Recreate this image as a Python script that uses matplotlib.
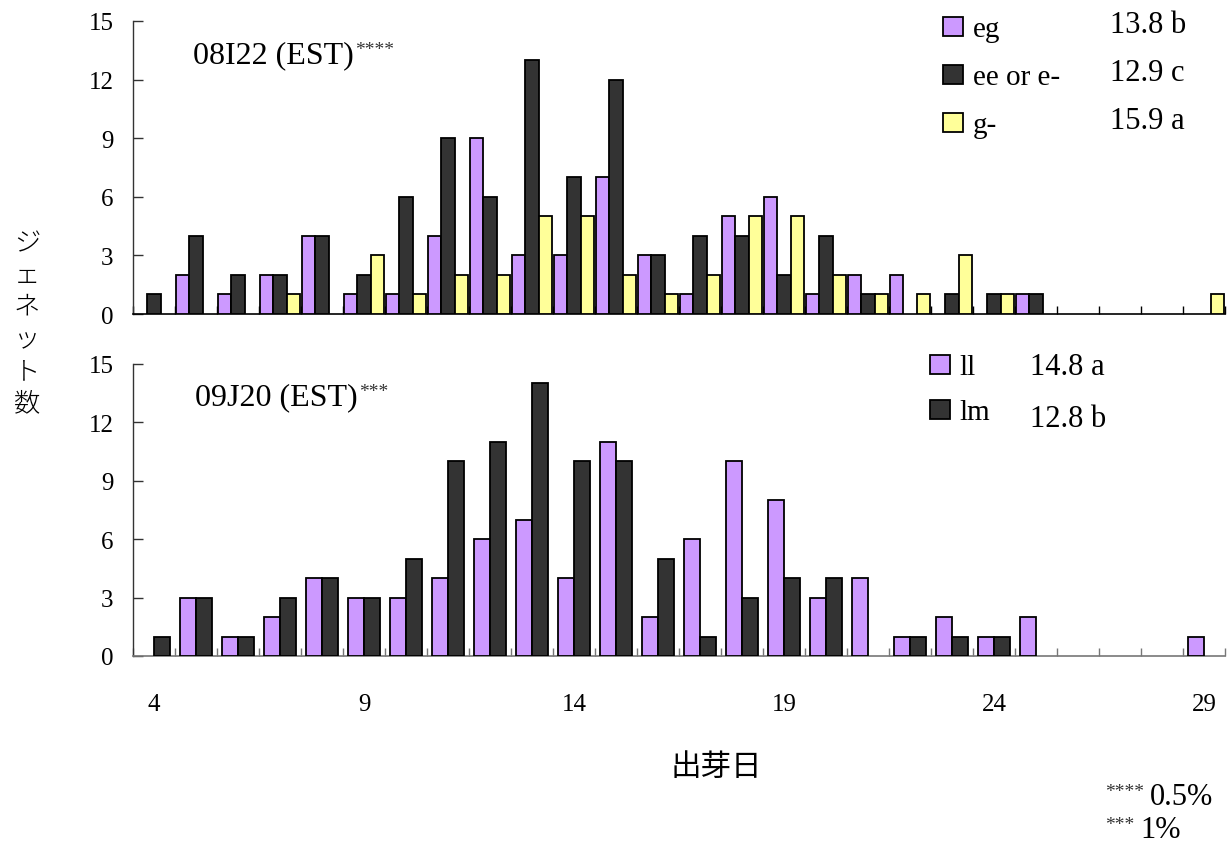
import numpy as np
import matplotlib
matplotlib.use("Agg")
import matplotlib.pyplot as plt
from matplotlib.patches import Rectangle

# Days to emergence (category axis) and jennet counts per genotype
days = list(range(4, 30))

# 08I22 (EST)
eg = [0, 2, 1, 2, 4, 1, 1, 4, 9, 3, 3, 7, 3, 1, 5, 6, 1, 2, 2, 0, 0, 1, 0, 0, 0, 0]
ee_or_e = [1, 4, 2, 2, 4, 2, 6, 9, 6, 13, 7, 12, 3, 4, 4, 2, 4, 1, 0, 1, 1, 1, 0, 0, 0, 0]
g_minus = [0, 0, 0, 1, 0, 3, 1, 2, 2, 5, 5, 2, 1, 2, 5, 5, 2, 1, 1, 3, 1, 0, 0, 0, 0, 1]

# 09J20 (EST)
ll = [0, 3, 1, 2, 4, 3, 3, 4, 6, 7, 4, 11, 2, 6, 10, 8, 3, 4, 1, 2, 1, 2, 0, 0, 0, 1]
lm = [1, 3, 1, 3, 4, 3, 5, 10, 11, 14, 10, 10, 5, 1, 3, 4, 4, 0, 1, 1, 1, 0, 0, 0, 0, 0]

top_labels = ["eg", "ee or e-", "g-"]
top_means = ["13.8 b", "12.9 c", "15.9 a"]
bottom_labels = ["ll", "lm"]
bottom_means = ["14.8 a", "12.8 b"]
yticks = [0, 3, 6, 9, 12, 15]
xtick_days = [4, 9, 14, 19, 24, 29]

PURPLE = "#CC99FF"
DARK = "#333333"
YELLOW = "#FFFF99"

SERIF = ["Liberation Serif", "DejaVu Serif"]
CJK = ["Noto Sans CJK JP", "DejaVu Sans"]

W, H = 1232, 845
fig = plt.figure(figsize=(W / 100, H / 100), dpi=100)


def fx(px):
    return px / W


def fy(py):
    return 1 - py / H


def axes_box(x0, x1, ytop, ybot):
    return [fx(x0), fy(ybot), fx(x1) - fx(x0), fy(ytop) - fy(ybot)]


ax1 = fig.add_axes(axes_box(133, 1225, 22, 315))
ax2 = fig.add_axes(axes_box(133, 1225, 365, 657))

x = np.array(days, dtype=float)


def draw_bars(ax, series, colors, width):
    n = len(series)
    offsets = (np.arange(n) - (n - 1) / 2) * width
    for vals, col, off in zip(series, colors, offsets):
        v = np.array(vals, dtype=float)
        keep = v > 0
        ax.bar(x[keep] + off, v[keep], width=width, color=col,
               edgecolor="black", linewidth=1.3, zorder=3)


draw_bars(ax1, [eg, ee_or_e, g_minus], [PURPLE, DARK, YELLOW], 0.317)
draw_bars(ax2, [ll, lm], [PURPLE, DARK], 0.39)

for ax, xcol in ((ax1, "black"), (ax2, "#777777")):
    ax.set_xlim(3.5, 29.5)
    ax.set_ylim(0, 15)
    ax.set_yticks(yticks)
    ax.set_yticklabels([str(t) for t in yticks], fontfamily=SERIF, fontsize=18)
    ax.tick_params(axis="y", direction="in", length=7, width=1.0,
                   pad=14, colors="#333333", labelcolor="black")
    ax.set_xticks(xtick_days)
    ax.set_xticks(np.arange(3.5, 30.0, 1.0), minor=True)
    ax.tick_params(axis="x", which="major", length=0)
    ax.tick_params(axis="x", which="minor", direction="in", length=6,
                   width=1.0, colors=xcol)
    for s in ("top", "right"):
        ax.spines[s].set_visible(False)
    ax.spines["left"].set_color("#333333")
    ax.spines["bottom"].set_color(xcol)
    ax.spines["left"].set_linewidth(1.0)
    ax.spines["bottom"].set_linewidth(1.2)
    ax.set_facecolor("none")

ax1.set_xticklabels([])
ax2.set_xticklabels([str(d) for d in xtick_days], fontfamily=SERIF, fontsize=18)
ax2.tick_params(axis="x", which="major", pad=27)

# Panel titles with significance marks
t1 = fig.text(fx(193), fy(63), "08I22 (EST)", fontfamily=SERIF, fontsize=23,
              va="baseline", ha="left")
ax1.annotate("****", xy=(1.0, 1.0), xycoords=t1, xytext=(1, -1),
             textcoords="offset points", ha="left", va="top",
             fontfamily=SERIF, fontsize=14, color="#333333")
t2 = fig.text(fx(195), fy(405), "09J20 (EST)", fontfamily=SERIF, fontsize=23,
              va="baseline", ha="left")
ax2.annotate("***", xy=(1.0, 1.0), xycoords=t2, xytext=(1, -1),
             textcoords="offset points", ha="left", va="top",
             fontfamily=SERIF, fontsize=14, color="#333333")


def legend_rows(colors, labels, means, box_x, label_x, mean_x,
                baselines, mean_baselines):
    for col, lab, mean, yb, ymb in zip(colors, labels, means,
                                       baselines, mean_baselines):
        fig.patches.append(Rectangle((fx(box_x), fy(yb)), fx(20), 19 / H,
                                     transform=fig.transFigure,
                                     facecolor=col, edgecolor="black",
                                     linewidth=1.3))
        fig.text(fx(label_x), fy(yb), lab, fontfamily=SERIF, fontsize=21,
                 va="baseline", ha="left")
        fig.text(fx(mean_x), fy(ymb), mean, fontfamily=SERIF, fontsize=22,
                 va="baseline", ha="left")


legend_rows([PURPLE, DARK, YELLOW], top_labels, top_means,
            943, 973, 1110, [37, 85, 133], [33, 81, 129])
legend_rows([PURPLE, DARK], bottom_labels, bottom_means,
            930, 959, 1030, [375, 420], [375, 427])

# Shared y-axis label, written vertically
ylabel = "ジェネット数"
for i, ch in enumerate(ylabel):
    fig.text(fx(27), fy(243 + 32 * i), ch, fontfamily=CJK, fontsize=19,
             ha="center", va="center", fontweight="light")

# x-axis label
fig.text(fx(716), fy(768), "出芽日", fontfamily=CJK, fontsize=22,
         ha="center", va="center")

# Significance level footnote
fig.text(fx(1150), fy(805), "0.5%", fontfamily=SERIF, fontsize=22,
         ha="left", va="baseline")
fig.text(fx(1144), fy(784), "****", fontfamily=SERIF, fontsize=14,
         color="#333333", ha="right", va="top")
fig.text(fx(1140), fy(838), "1%", fontfamily=SERIF, fontsize=22,
         ha="left", va="baseline")
fig.text(fx(1134), fy(817), "***", fontfamily=SERIF, fontsize=14,
         color="#333333", ha="right", va="top")

fig.savefig("out.png", dpi=100, facecolor="white")
